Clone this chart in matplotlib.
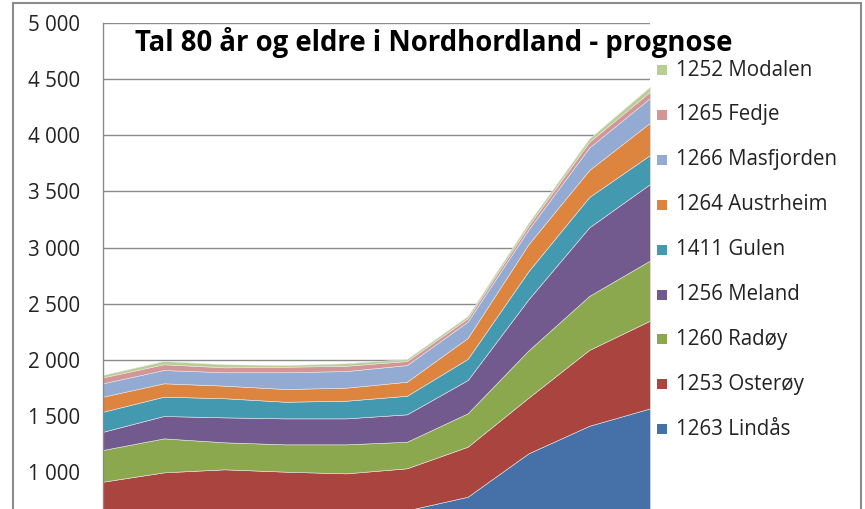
import matplotlib.pyplot as plt
from matplotlib.patches import Rectangle
import numpy as np

plt.rcParams['font.family'] = ['Open Sans', 'DejaVu Sans']

# Tal 80 år og eldre per kommune (lese av frå figuren)
lindas = [590, 620, 640, 640, 645, 663, 784, 1170, 1415, 1570]
osteroy = [328, 381, 388, 367, 347, 374, 445, 495, 675, 780]
radoy = [282, 302, 240, 243, 258, 236, 297, 420, 480, 535]
meland = [162, 199, 222, 231, 231, 244, 296, 455, 610, 680]
gulen = [178, 172, 170, 148, 157, 165, 188, 250, 270, 258]
austrheim = [134, 119, 112, 113, 116, 125, 186, 240, 240, 287]
masfjorden = [119, 118, 119, 149, 148, 148, 145, 130, 200, 220]
fedje = [53, 51, 44, 49, 47, 36, 30, 35, 50, 56]
modalen = [21, 29, 27, 15, 22, 18, 20, 25, 30, 45]

labels = ['1263 Lindås', '1253 Osterøy', '1260 Radøy', '1256 Meland', '1411 Gulen',
          '1264 Austrheim', '1266 Masfjorden', '1265 Fedje', '1252 Modalen']
colors = ['#4571A8', '#A9443F', '#8CA84E', '#725A8E', '#4399B0',
          '#DD853F', '#93AAD3', '#D49597', '#B9CE94']
yticks = [1000, 1500, 2000, 2500, 3000, 3500, 4000, 4500, 5000]

W, H = 865, 509
fig = plt.figure(figsize=(W / 100, H / 100), dpi=100)

# plot area in pixels
left, right, top = 103, 650, 22.7
ax = fig.add_axes([left / W, 0, (right - left) / W, 1 - top / H])

series = [lindas, osteroy, radoy, meland, gulen, austrheim, masfjorden, fedje, modalen]
x = np.arange(len(lindas))
ax.stackplot(x, *series, colors=colors, edgecolor='#e6e6e6', linewidth=0.4, zorder=2)

ax.set_xlim(0, len(x) - 1)
ax.set_ylim(675, 5000)
ax.set_yticks(yticks)
ax.set_yticklabels([f'{v:,}'.replace(',', ' ') for v in yticks], fontsize=14.8, color='#222222')
ax.tick_params(axis='y', length=0, pad=16.5)
ax.set_xticks([])
ax.grid(axis='y', color='#8a8a8a', linewidth=1.0, zorder=0)
ax.set_axisbelow(True)
for s in ['top', 'right', 'bottom']:
    ax.spines[s].set_visible(False)
ax.spines['left'].set_color('#8a8a8a')
ax.spines['left'].set_linewidth(1.0)

# outer chart border
fig.patches.append(Rectangle((13 / W, -0.05), 848 / W, 1 - 3 / H + 0.05, transform=fig.transFigure,
                             fill=False, edgecolor='#8c8c8c', linewidth=1.5))

fig.text(135 / W, 1 - 51 / H, 'Tal 80 år og eldre i Nordhordland - prognose',
         fontsize=19.8, fontweight='bold', va='baseline', ha='left', color='black')

# legend, top entry first
for i, (lab, col) in enumerate(zip(labels[::-1], colors[::-1])):
    yc = 70 + i * 44.9
    fig.patches.append(Rectangle((657 / W, 1 - (yc + 5) / H), 10 / W, 10 / H,
                                 transform=fig.transFigure, facecolor=col, edgecolor='none'))
    fig.text(676 / W, 1 - yc / H, lab, fontsize=14.8, va='center', ha='left', color='#222222')

plt.savefig('out.png', dpi=100)
